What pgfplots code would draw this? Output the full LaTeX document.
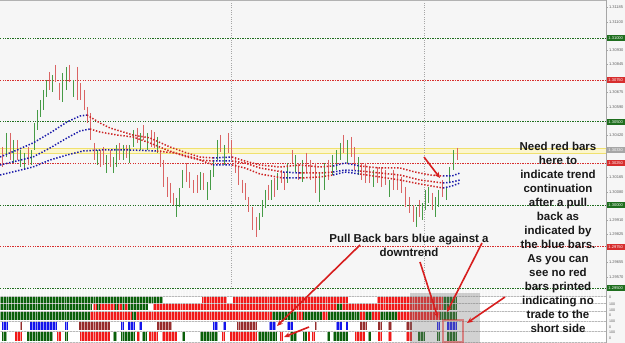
\documentclass[border=0pt]{standalone}
\usepackage{pgfplots}
\pgfplotsset{compat=1.18}
\usepackage{pgfplotstable}
\usepackage{fontspec}
\setmainfont{Liberation Sans}
\usetikzlibrary{arrows.meta}
\definecolor{bgc}{RGB}{246,246,246}
\definecolor{upc}{RGB}{70,155,70}
\definecolor{dnc}{RGB}{218,100,100}
\definecolor{lvg}{RGB}{30,110,30}
\definecolor{lvr}{RGB}{215,45,45}
\definecolor{mab}{RGB}{25,25,170}
\definecolor{mar}{RGB}{205,35,35}
\definecolor{ylw}{RGB}{240,225,110}
\definecolor{ylwl}{RGB}{252,246,205}
\definecolor{dg}{RGB}{10,95,10}
\definecolor{br}{RGB}{240,25,25}
\definecolor{bb}{RGB}{20,20,235}
\definecolor{dr}{RGB}{150,45,45}
\definecolor{arr}{RGB}{215,30,30}

\pgfplotstableread{
x hi lo
6 1.30432 1.30288
13 1.30390 1.30252
20 1.30330 1.30228
24 1.30312 1.30210
31 1.30330 1.30240
34 1.30492 1.30330
37 1.30570 1.30450
40 1.30630 1.30528
43 1.30690 1.30570
46 1.30750 1.30648
52 1.30780 1.30678
62 1.30792 1.30618
66 1.30828 1.30690
73 1.30750 1.30648
97 1.30330 1.30240
106 1.30300 1.30192
113 1.30288 1.30192
116 1.30360 1.30228
123 1.30360 1.30270
129 1.30360 1.30252
133 1.30450 1.30348
140 1.30432 1.30330
147 1.30432 1.30330
157 1.30408 1.30312
176 1.30042 1.29928
179 1.30102 1.29988
182 1.30210 1.30102
200 1.30198 1.30090
207 1.30138 1.30030
210 1.30210 1.30090
213 1.30270 1.30168
217 1.30390 1.30270
224 1.30360 1.30240
259 1.29952 1.29850
262 1.30030 1.29928
265 1.30090 1.29982
271 1.30150 1.30030
277 1.30192 1.30090
287 1.30252 1.30132
295 1.30300 1.30198
302 1.30270 1.30138
319 1.30192 1.30018
324 1.30252 1.30090
332 1.30300 1.30180
336 1.30330 1.30210
340 1.30372 1.30270
347 1.30390 1.30252
358 1.30288 1.30180
373 1.30210 1.30108
389 1.30150 1.30048
416 1.29988 1.29868
422 1.30012 1.29910
425 1.30090 1.29970
428 1.30108 1.30012
435 1.30048 1.29928
438 1.30090 1.29988
446 1.30108 1.30030
449 1.30228 1.30132
453 1.30330 1.30210
}\upbars

\pgfplotstableread{
x hi lo
2 1.30348 1.30228
10 1.30432 1.30270
17 1.30390 1.30270
28 1.30348 1.30240
49 1.30798 1.30690
55 1.30840 1.30738
59 1.30732 1.30630
69 1.30840 1.30738
77 1.30828 1.30630
80 1.30732 1.30630
84 1.30690 1.30570
87 1.30588 1.30492
90 1.30552 1.30390
94 1.30372 1.30270
100 1.30330 1.30228
103 1.30348 1.30240
110 1.30330 1.30228
119 1.30372 1.30270
126 1.30360 1.30282
137 1.30462 1.30372
143 1.30480 1.30390
151 1.30450 1.30348
154 1.30438 1.30342
160 1.30330 1.30228
163 1.30270 1.30108
167 1.30168 1.30048
170 1.30132 1.30012
173 1.30072 1.30000
186 1.30252 1.30138
189 1.30198 1.30102
193 1.30150 1.30072
197 1.30180 1.30072
203 1.30192 1.30090
220 1.30420 1.30318
228 1.30432 1.30312
231 1.30390 1.30270
235 1.30288 1.30192
238 1.30228 1.30120
242 1.30150 1.30072
245 1.30132 1.30030
248 1.30048 1.29958
252 1.29988 1.29850
256 1.29928 1.29808
268 1.30120 1.30030
274 1.30162 1.30048
281 1.30210 1.30132
284 1.30198 1.30090
292 1.30330 1.30252
298 1.30252 1.30150
306 1.30312 1.30192
310 1.30270 1.30150
315 1.30252 1.30072
328 1.30270 1.30150
343 1.30420 1.30312
351 1.30408 1.30288
354 1.30348 1.30210
361 1.30252 1.30150
365 1.30252 1.30132
369 1.30228 1.30132
377 1.30228 1.30132
381 1.30228 1.30108
385 1.30210 1.30120
393 1.30210 1.30090
397 1.30180 1.30090
401 1.30168 1.30072
405 1.30108 1.29988
409 1.30048 1.29952
413 1.30000 1.29898
419 1.30030 1.29928
432 1.30072 1.29970
442 1.30150 1.30048
457 1.30342 1.30270
}\downbars

\begin{document}
\begin{tikzpicture}[x=1pt,y=1pt]
\fill[bgc] (0,0) rectangle (625,343);
\path[use as bounding box] (0,0) rectangle (625,343);
\fill[white] (0,1) rectangle (606,47);

% ---------------- main price panel ----------------
\begin{axis}[
  at={(0pt,54pt)}, anchor=south west,
  scale only axis, width=606pt, height=289pt,
  xmin=0, xmax=606, ymin=1.29496, ymax=1.3123,
  axis x line=none, axis y line*=right,
  y axis line style={gray!70, -},
  ytick={1.31185,1.311,1.3093,1.30845,1.30675,1.3059,1.3042,1.30165,1.3008,1.2991,1.29825,1.29655,1.2957},
  yticklabels={1.31185,1.31100,1.30930,1.30845,1.30675,1.30590,1.30420,1.30165,1.30080,1.29910,1.29825,1.29655,1.29570},
  tick align=outside, major tick length=2pt, tick style={gray!70},
  yticklabel style={font=\fontsize{4}{4}\selectfont, text=gray!75!black, inner sep=0.8pt},
  clip=false, unbounded coords=jump,
  level/.style={line width=0.7pt, dash pattern=on 1.2pt off 1.3pt},
  ma/.style={line width=1.5pt, dash pattern=on 1.4pt off 1.7pt},
  hl/.style={only marks, mark=none, draw=none, mark options={draw opacity=0, fill opacity=0}, forget plot},
]
% level lines
\addplot[level, lvg] coordinates {(0,1.31) (606,1.31) (nan,nan) (0,1.305) (606,1.305) (nan,nan) (0,1.30) (606,1.30) (nan,nan) (0,1.295) (606,1.295)};
\addplot[level, lvr] coordinates {(0,1.3075) (606,1.3075) (nan,nan) (0,1.3025) (606,1.3025) (nan,nan) (0,1.2975) (606,1.2975)};
\addplot[ylwl, line width=4.5pt] coordinates {(0,1.30324) (606,1.30324)};
\addplot[ylw, line width=1.1pt] coordinates {(0,1.30337) (606,1.30337) (nan,nan) (0,1.30311) (606,1.30311)};
\addplot[gray!70, line width=0.5pt, dash pattern=on 1pt off 1.3pt] coordinates {(231,1.29496) (231,1.3123) (nan,nan) (424,1.29496) (424,1.3123)};

% OHLC bars (high-low)
\addplot[hl,
  error bars/.cd, y dir=minus, y explicit, error mark=none,
  error bar style={upc, line width=0.85pt}]
  table[x=x, y=hi, y error expr=\thisrow{hi}-\thisrow{lo}] {\upbars};
\addplot[hl,
  error bars/.cd, y dir=minus, y explicit, error mark=none,
  error bar style={dnc, line width=0.85pt}]
  table[x=x, y=hi, y error expr=\thisrow{hi}-\thisrow{lo}] {\downbars};

% moving averages
\addplot[ma, mab] coordinates {(0,1.30288) (17,1.30330) (33,1.30372) (50,1.30432) (67,1.30498) (80,1.30534) (87,1.30540) (nan,nan) (213,1.30282) (232,1.30288) (nan,nan) (333,1.30234) (345,1.30252) (360,1.30234) (nan,nan) (443,1.30174) (452,1.30174) (460,1.30192)};
\addplot[ma, mar] coordinates {(87,1.30540) (100,1.30492) (110,1.30462) (133,1.30420) (150,1.30402) (170,1.30348) (187,1.30312) (200,1.30288) (213,1.30282) (nan,nan) (232,1.30288) (245,1.30264) (260,1.30240) (280,1.30228) (300,1.30240) (320,1.30228) (333,1.30234) (nan,nan) (360,1.30234) (380,1.30222) (400,1.30222) (415,1.30198) (430,1.30180) (443,1.30174)};
\addplot[ma, mab] coordinates {(0,1.30240) (33,1.30288) (50,1.30342) (67,1.30402) (80,1.30444) (90,1.30456) (nan,nan) (213,1.30264) (232,1.30264) (nan,nan) (283,1.30198) (300,1.30192) (nan,nan) (333,1.30198) (345,1.30210) (360,1.30204) (nan,nan) (443,1.30132) (452,1.30138) (460,1.30150)};
\addplot[ma, mar] coordinates {(90,1.30456) (100,1.30438) (117,1.30420) (133,1.30408) (150,1.30372) (167,1.30330) (187,1.30288) (200,1.30270) (213,1.30264) (nan,nan) (232,1.30264) (245,1.30252) (260,1.30222) (283,1.30198) (nan,nan) (300,1.30192) (320,1.30192) (333,1.30198) (nan,nan) (360,1.30204) (380,1.30192) (400,1.30180) (420,1.30150) (443,1.30132)};
\addplot[ma, mab] coordinates {(0,1.30180) (33,1.30228) (50,1.30270) (67,1.30300) (83,1.30324) (100,1.30330) (130,1.30330) (157,1.30324) (nan,nan) (213,1.30240) (232,1.30240) (nan,nan) (283,1.30162) (300,1.30162) (nan,nan) (333,1.30180) (345,1.30198) (360,1.30186) (nan,nan) (443,1.30102) (452,1.30114) (460,1.30132)};
\addplot[ma, mar] coordinates {(157,1.30324) (175,1.30312) (195,1.30282) (213,1.30240) (nan,nan) (232,1.30240) (245,1.30222) (260,1.30186) (283,1.30162) (nan,nan) (300,1.30162) (320,1.30168) (333,1.30180) (nan,nan) (360,1.30186) (380,1.30168) (400,1.30150) (420,1.30126) (443,1.30102)};

% price label boxes
\tikzset{pl/.style={anchor=west, text=white, font=\fontsize{4}{4}\selectfont, inner sep=0.8pt, minimum width=19pt, minimum height=6pt}}
\node[pl, fill=lvg] at (axis cs:606,1.31) {1.31000};
\node[pl, fill=lvr] at (axis cs:606,1.3075) {1.30750};
\node[pl, fill=lvg] at (axis cs:606,1.305) {1.30500};
\node[pl, fill=gray!70] at (axis cs:606,1.3033) {1.30330};
\node[pl, fill=lvr] at (axis cs:606,1.3025) {1.30250};
\node[pl, fill=lvg] at (axis cs:606,1.30) {1.30000};
\node[pl, fill=lvr] at (axis cs:606,1.2975) {1.29750};
\node[pl, fill=lvg] at (axis cs:606,1.295) {1.29500};
\end{axis}

% ---------------- indicator panel ----------------
\begin{axis}[
  at={(0pt,0pt)}, anchor=south west,
  scale only axis, width=606pt, height=54pt,
  xmin=0, xmax=606, ymin=289, ymax=343, y dir=reverse,
  axis line style={draw=none}, tick style={draw=none},
  xtick={0,2.9,...,606}, xticklabels={}, ytick=\empty,
  xmajorgrids, major grid style={white, line width=0.45pt, opacity=0.55},
  axis on top, unbounded coords=jump,
]
\addplot[gray!55, line width=0.5pt] coordinates {(0,296) (606,296) (nan,nan) (0,303.5) (606,303.5) (nan,nan) (0,311) (606,311) (nan,nan) (0,321) (606,321) (nan,nan) (0,331) (606,331) (nan,nan) (0,342) (606,342)};
% row 1
\addplot[dg, line width=6pt] coordinates {(0,300) (163,300) (nan,nan) (443,300) (457,300)};
\addplot[br, line width=6pt] coordinates {(202,300) (227,300) (nan,nan) (233,300) (348,300) (nan,nan) (377,300) (443,300)};
% row 2
\addplot[dg, line width=6pt] coordinates {(0,307.5) (92,307.5) (nan,nan) (97,307.5) (100,307.5) (nan,nan) (115,307.5) (118,307.5) (nan,nan) (122,307.5) (125,307.5) (nan,nan) (128,307.5) (148,307.5) (nan,nan) (337,307.5) (342,307.5) (nan,nan) (443,307.5) (457,307.5)};
\addplot[br, line width=6pt] coordinates {(93,307.5) (97,307.5) (nan,nan) (100,307.5) (115,307.5) (nan,nan) (118,307.5) (122,307.5) (nan,nan) (125,307.5) (128,307.5) (nan,nan) (153,307.5) (337,307.5) (nan,nan) (342,307.5) (443,307.5)};
% row 3
\addplot[dg, line width=8pt] coordinates {(0,316) (90,316) (nan,nan) (132,316) (136,316) (nan,nan) (272,316) (297,316) (nan,nan) (303,316) (322,316) (nan,nan) (328,316) (360,316) (nan,nan) (365,316) (372,316) (nan,nan) (380,316) (397,316) (nan,nan) (440,316) (457,316)};
\addplot[br, line width=8pt] coordinates {(90,316) (132,316) (nan,nan) (136,316) (272,316) (nan,nan) (297,316) (303,316) (nan,nan) (322,316) (328,316) (nan,nan) (360,316) (365,316) (nan,nan) (372,316) (380,316) (nan,nan) (397,316) (440,316)};
% row 4
\addplot[bb, line width=8pt] coordinates {(2,326) (8,326) (nan,nan) (30,326) (57,326) (nan,nan) (65,326) (68,326) (nan,nan) (121,326) (124,326) (nan,nan) (128,326) (135,326) (nan,nan) (139,326) (142,326) (nan,nan) (213,326) (218,326) (nan,nan) (223,326) (226,326) (nan,nan) (269,326) (276,326) (nan,nan) (287,326) (293,326) (nan,nan) (336,326) (342,326) (nan,nan) (346,326) (348,326) (nan,nan) (437,326) (440,326) (nan,nan) (447,326) (457,326)};
\addplot[dr, line width=8pt] coordinates {(20,326) (22,326) (nan,nan) (79,326) (110,326) (nan,nan) (157,326) (172,326) (nan,nan) (237,326) (257,326) (nan,nan) (315,326) (317,326) (nan,nan) (360,326) (367,326) (nan,nan) (378,326) (382,326) (nan,nan) (388,326) (392,326) (nan,nan) (406,326) (412,326)};
% row 5
\addplot[dg, line width=9pt] coordinates {(2,336.5) (7,336.5) (nan,nan) (27,336.5) (53,336.5) (nan,nan) (65,336.5) (68,336.5) (nan,nan) (113,336.5) (117,336.5) (nan,nan) (121,336.5) (135,336.5) (nan,nan) (142,336.5) (147,336.5) (nan,nan) (182,336.5) (185,336.5) (nan,nan) (200,336.5) (218,336.5) (nan,nan) (258,336.5) (277,336.5) (nan,nan) (290,336.5) (297,336.5) (nan,nan) (303,336.5) (307,336.5) (nan,nan) (327,336.5) (330,336.5) (nan,nan) (333,336.5) (348,336.5) (nan,nan) (368,336.5) (371,336.5) (nan,nan) (418,336.5) (425,336.5) (nan,nan) (437,336.5) (440,336.5) (nan,nan) (447,336.5) (457,336.5)};
\addplot[br, line width=9pt] coordinates {(15,336.5) (22,336.5) (nan,nan) (57,336.5) (61,336.5) (nan,nan) (80,336.5) (110,336.5) (nan,nan) (137,336.5) (140,336.5) (nan,nan) (149,336.5) (158,336.5) (nan,nan) (162,336.5) (177,336.5) (nan,nan) (222,336.5) (225,336.5) (nan,nan) (230,336.5) (257,336.5) (nan,nan) (280,336.5) (283,336.5) (nan,nan) (308,336.5) (310,336.5) (nan,nan) (312,336.5) (315,336.5) (nan,nan) (355,336.5) (365,336.5) (nan,nan) (378,336.5) (382,336.5) (nan,nan) (388,336.5) (392,336.5) (nan,nan) (406,336.5) (412,336.5)};
\end{axis}

% frame lines, overlays
\draw[gray!60, line width=0.6pt] (0,342.4) -- (606,342.4);
\draw[gray!70, line width=0.5pt] (606,0) -- (606,343);
\fill[gray, opacity=0.35] (410,0) rectangle (480,50);
\draw[arr, opacity=0.45, line width=1.6pt] (443,1) rectangle (463,23);
\begin{scope}[font=\fontsize{3.6}{3.6}\selectfont, text=gray!75!black, inner sep=0pt, anchor=west]
\node at (609,46) {0};
\node at (609,38.5) {100};
\node at (609,32.5) {100};
\node at (609,27.5) {0};
\node at (609,21.5) {100};
\node at (609,16) {0};
\node at (609,11) {100};
\node at (609,5) {0};
\end{scope}

% annotations
\node[align=center, text=black!90, font=\bfseries\fontsize{11.5}{14}\selectfont] at (558,106)
 {Need red bars\\here to\\indicate trend\\continuation\\after a pull\\back as\\indicated by\\the blue bars.\\As you can\\see no red\\bars printed\\indicating no\\trade to the\\short side};
\node[align=center, text=black!90, font=\bfseries\fontsize{11.5}{14}\selectfont] at (409,98)
 {Pull Back bars blue against a\\downtrend};
\begin{scope}[arr, line width=1.6pt, -{Stealth[length=6pt, width=5pt]}]
\draw (360,98) -- (277,17);
\draw (309,16) -- (284,6);
\draw (420,81) -- (438,25);
\draw (482,100) -- (447,31);
\draw (505,46) -- (467,20);
\draw (424,186) -- (440,165);
\end{scope}
\end{tikzpicture}
\end{document}
